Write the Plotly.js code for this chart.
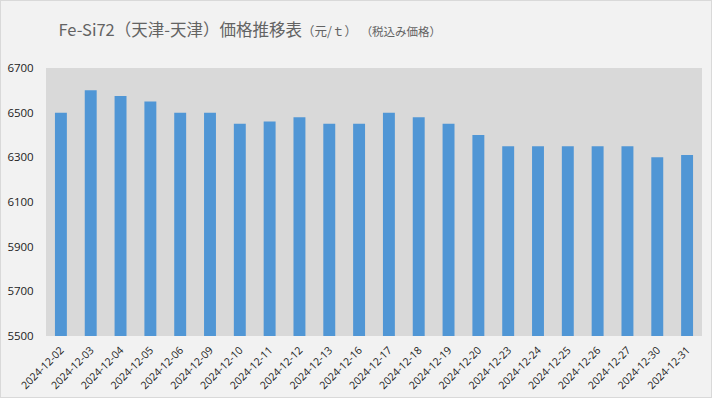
<!DOCTYPE html>
<html><head><meta charset="utf-8">
<script src="https://cdn.plot.ly/plotly-3.0.1.min.js"></script>
<style>html,body{margin:0;padding:0;background:#f2f2f2}#c{width:712px;height:398px;box-sizing:border-box;border:1px solid #d9d9d9}</style>
</head><body><div id="c"></div>
<script>
const dates = ["2024-12-02","2024-12-03","2024-12-04","2024-12-05","2024-12-06","2024-12-09","2024-12-10","2024-12-11","2024-12-12","2024-12-13","2024-12-16","2024-12-17","2024-12-18","2024-12-19","2024-12-20","2024-12-23","2024-12-24","2024-12-25","2024-12-26","2024-12-27","2024-12-30","2024-12-31"];
const prices = [6500,6600,6575,6550,6500,6500,6450,6460,6480,6450,6450,6500,6480,6450,6400,6350,6350,6350,6350,6350,6300,6310];
const yTicks = [5500,5700,5900,6100,6300,6500,6700];

const trace = {
  type: 'bar', x: dates, y: prices,
  marker: {color: '#5096d5'},
  hoverinfo: 'x+y'
};
const layout = {
  width: 710, height: 396,
  paper_bgcolor: '#f2f2f2', plot_bgcolor: '#d9d9d9',
  margin: {l: 45, r: 9, t: 67, b: 61},
  bargap: 0.6,
  showlegend: false,
  title: {
    text: 'Fe-Si72（天津-天津）価格推移表<span style="font-size:12.5px">（元/ｔ）</span> <span style="font-size:11.5px">（税込み価格）</span>',
    x: 0.081, xanchor: 'left', y: 0.925, yanchor: 'middle',
    font: {family: 'Noto Sans CJK JP, sans-serif', size: 16.5, color: '#636363'}
  },
  xaxis: {
    type: 'category', tickangle: -45, showgrid: false, zeroline: false,
    showline: false, ticks: 'outside', ticklen: 3, tickcolor: 'rgba(0,0,0,0)',
    tickfont: {family: 'Open Sans, sans-serif', size: 10.5, color: '#222'}
  },
  yaxis: {
    range: [5500, 6700], tickvals: yTicks, ticktext: yTicks.map(String),
    showgrid: false, zeroline: false, showline: false,
    ticks: 'outside', ticklen: 9, tickcolor: 'rgba(0,0,0,0)',
    tickfont: {family: 'Open Sans, sans-serif', size: 11.5, color: '#222'}
  }
};
Plotly.newPlot('c', [trace], layout, {displayModeBar: false, staticPlot: true});
</script></body></html>
